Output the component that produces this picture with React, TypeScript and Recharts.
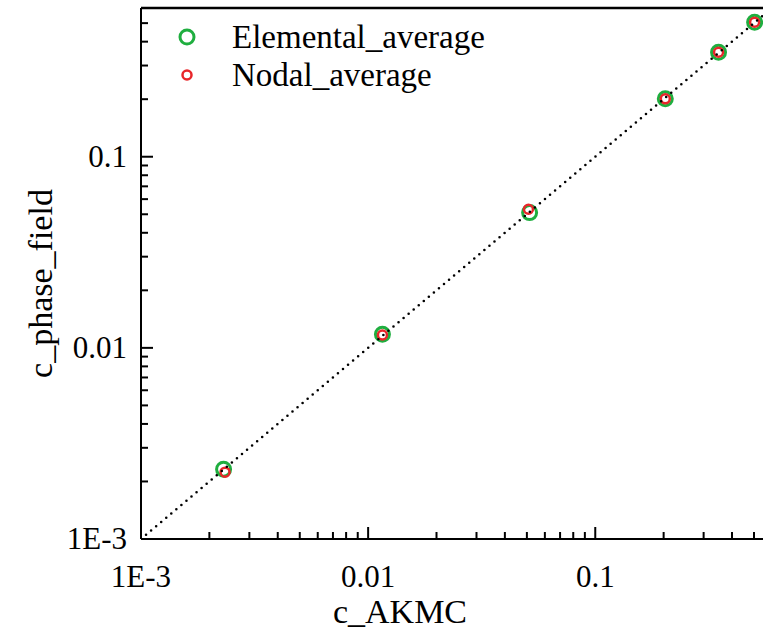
import React from 'react';
import { ScatterChart, Scatter, XAxis, YAxis, Legend, Label } from 'recharts';

// Measured concentrations: AKMC reference vs. phase-field result
const akmcElemental = [0.00231, 0.01156, 0.0514, 0.2034, 0.349, 0.503];
const phaseElemental = [0.00232, 0.01177, 0.051, 0.2009, 0.352, 0.505];
const akmcNodal = [0.002345, 0.01156, 0.0508, 0.2034, 0.349, 0.503];
const phaseNodal = [0.002238, 0.01167, 0.0531, 0.2009, 0.352, 0.505];

// y = x guide line endpoints
const diagonal = [0.001, 0.6];

const majorTicks = [0.001, 0.01, 0.1];
const majorLabels = ['1E-3', '0.01', '0.1'];
const minorTicks = [
  0.002, 0.003, 0.004, 0.005, 0.006, 0.007, 0.008, 0.009,
  0.02, 0.03, 0.04, 0.05, 0.06, 0.07, 0.08, 0.09,
  0.2, 0.3, 0.4, 0.5,
];
const allTicks = [...majorTicks, ...minorTicks].sort((a, b) => a - b);

const GREEN = '#1fae3f';
const RED = '#e8262a';
const FONT = '"Liberation Serif", "Times New Roman", serif';
const TICK_FS = 31;
const TITLE_FS = 34;
const LEGEND_FS = 33;

const elementalData = akmcElemental.map((x, i) => ({ x, y: phaseElemental[i] }));
const nodalData = akmcNodal.map((x, i) => ({ x, y: phaseNodal[i] }));
const diagonalData = diagonal.map((v) => ({ x: v, y: v }));

const labelFor = (v: number) => {
  const i = majorTicks.findIndex((m) => Math.abs(m - v) / v < 1e-6);
  return i >= 0 ? majorLabels[i] : null;
};

const XTick = (props: any) => {
  const { x, y, payload } = props;
  const label = labelFor(payload.value);
  return (
    <g>
      <line x1={x} x2={x} y1={y} y2={y - (label ? 12 : 7)} stroke="#000" strokeWidth={2} />
      {label && (
        <text x={x} y={y + 48} textAnchor="middle" fontFamily={FONT} fontSize={TICK_FS} fill="#000">
          {label}
        </text>
      )}
    </g>
  );
};

const YTick = (props: any) => {
  const { x, y, payload } = props;
  const label = labelFor(payload.value);
  return (
    <g>
      <line x1={x} x2={x + (label ? 12 : 7)} y1={y} y2={y} stroke="#000" strokeWidth={2} />
      {label && (
        <text x={x - 14} y={y + 10} textAnchor="end" fontFamily={FONT} fontSize={TICK_FS} fill="#000">
          {label}
        </text>
      )}
    </g>
  );
};

const XTitle = (props: any) => {
  const vb = props.viewBox;
  return (
    <text x={vb.x + 259} y={vb.y + 84} textAnchor="middle" fontFamily={FONT} fontSize={TITLE_FS} fill="#000">
      c_AKMC
    </text>
  );
};

const YTitle = (props: any) => {
  const vb = props.viewBox;
  const cx = vb.x - 100;
  const cy = vb.y + vb.height / 2 + 10;
  return (
    <text
      x={cx}
      y={cy}
      transform={`rotate(-90 ${cx} ${cy})`}
      textAnchor="middle"
      dominantBaseline="central"
      fontFamily={FONT}
      fontSize={TITLE_FS}
      fill="#000"
    >
      c_phase_field
    </text>
  );
};

const ringShape = (r: number, color: string, w: number) => (p: any) =>
  <circle cx={p.cx} cy={p.cy} r={r} fill="none" stroke={color} strokeWidth={w} />;

const LegendContent = (props: any) => {
  const items = (props.payload || []).filter((e: any) => e.type !== 'none');
  return (
    <div style={{ fontFamily: FONT, fontSize: LEGEND_FS, color: '#000', lineHeight: 1 }}>
      {items.map((e: any) => {
        const isElem = e.value === 'Elemental_average';
        return (
          <div key={e.value} style={{ display: 'flex', alignItems: 'center', height: 38 }}>
            <svg width={34} height={20} style={{ marginRight: 28 }}>
              <circle
                cx={17}
                cy={10}
                r={isElem ? 7 : 4.5}
                fill="none"
                stroke={isElem ? GREEN : RED}
                strokeWidth={isElem ? 3 : 2.5}
              />
            </svg>
            <span>{e.value}</span>
          </div>
        );
      })}
    </div>
  );
};

export default function App() {
  const W = 800;
  const H = 634;
  return (
    <div style={{ position: 'absolute', left: 0, top: 0, width: 763, height: 634, overflow: 'hidden', background: '#fff' }}>
      <ScatterChart width={W} height={H} margin={{ top: 7, left: 140, right: W - 772, bottom: H - 540 }}>
        <XAxis
          dataKey="x"
          type="number"
          scale="log"
          domain={[0.001, 0.6]}
          allowDataOverflow
          ticks={allTicks}
          interval={0}
          tick={<XTick />}
          tickSize={0}
          tickMargin={0}
          height={1}
          axisLine={{ stroke: '#000', strokeWidth: 2 }}
        >
          <Label content={<XTitle />} />
        </XAxis>
        <XAxis
          xAxisId="top"
          orientation="top"
          dataKey="x"
          type="number"
          scale="log"
          domain={[0.001, 0.6]}
          allowDataOverflow
          tick={false}
          tickLine={false}
          height={1}
          axisLine={{ stroke: '#000', strokeWidth: 2.5 }}
        />
        <YAxis
          dataKey="y"
          type="number"
          scale="log"
          domain={[0.001, 0.6]}
          allowDataOverflow
          ticks={allTicks}
          interval={0}
          tick={<YTick />}
          tickSize={0}
          tickMargin={0}
          width={1}
          axisLine={{ stroke: '#000', strokeWidth: 2 }}
        >
          <Label content={<YTitle />} />
        </YAxis>
        <Legend
          layout="vertical"
          align="center"
          verticalAlign="middle"
          content={<LegendContent />}
          wrapperStyle={{ left: 170, top: 18, width: 'auto', height: 'auto' }}
        />
        <Scatter
          name="Elemental_average"
          data={elementalData}
          shape={ringShape(7, GREEN, 3)}
          isAnimationActive={false}
        />
        <Scatter
          name="Nodal_average"
          data={nodalData}
          shape={ringShape(4.5, RED, 2.5)}
          isAnimationActive={false}
        />
        <Scatter
          name="y=x"
          legendType="none"
          data={diagonalData}
          shape={() => <g />}
          line={{ stroke: '#000', strokeWidth: 2.6, strokeDasharray: '0 6.6', strokeLinecap: 'round' }}
          isAnimationActive={false}
        />
      </ScatterChart>
    </div>
  );
}
